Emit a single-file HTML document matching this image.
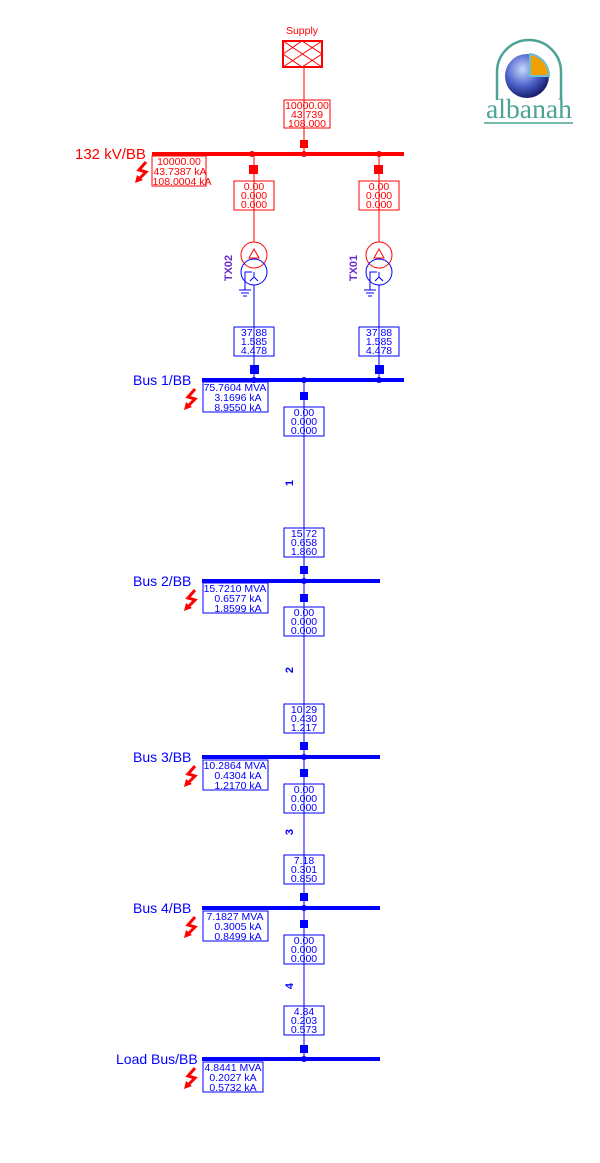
<!DOCTYPE html>
<html><head><meta charset="utf-8"><style>
html,body{margin:0;padding:0;background:#fff;}
svg{display:block;font-family:"Liberation Sans",sans-serif;}
.r{fill:none;stroke:#ff0000;stroke-width:1}
.b{fill:none;stroke:#0000ff;stroke-width:1}
.tr{fill:#ff0000;font-size:10.5px;text-anchor:middle}
.tb{fill:#0000ff;font-size:10.5px;text-anchor:middle}
</style></head><body>
<svg width="600" height="1163" viewBox="0 0 600 1163" xmlns="http://www.w3.org/2000/svg">
<defs>
<g id="boltR"><path d="M11,0 L4,8 L11,10 L4,17" fill="none" stroke="#ff0000" stroke-width="3"/><path d="M0,21 L2,13 L8,18 Z" fill="#ff0000"/></g>
</defs>
<!-- Supply -->
<text x="302" y="34" fill="#ff0000" font-size="10.5" text-anchor="middle">Supply</text>
<rect x="283" y="41" width="39" height="26" fill="none" stroke="#ff0000" stroke-width="2"/>
<path d="M283,41 L322,67 M283,67 L322,41 M283,54 L302,41 L322,54 L302,67 Z" class="r"/>
<line x1="304" y1="67" x2="304" y2="154" class="r"/>
<rect x="284" y="100" width="46" height="28" fill="#fff" class="r"/>
<text class="tr" x="307" y="109">10000.00</text><text class="tr" x="307" y="118">43.739</text><text class="tr" x="307" y="127">108.000</text>
<rect x="300" y="140" width="8" height="8" fill="#ff0000"/>
<!-- 132kV bus -->
<rect x="152" y="152" width="252" height="4" fill="#ff0000"/>
<circle cx="252" cy="154" r="3" fill="#ff0000"/><circle cx="304" cy="154" r="3" fill="#ff0000"/><circle cx="379" cy="154" r="3" fill="#ff0000"/>
<text x="75" y="159" fill="#ff0000" font-size="15">132 kV/BB</text>
<rect x="152" y="156" width="54" height="30" fill="#fff" class="r"/>
<text class="tr" x="179" y="165">10000.00</text><text class="tr" x="180" y="175">43.7387 kA</text><text class="tr" x="182" y="185">108.0004 kA</text>
<use href="#boltR" x="135" y="162"/>
<!-- transformer branches -->
<g id="txR">
<line x1="254" y1="154" x2="254" y2="242" class="r"/>
<rect x="249" y="165" width="9" height="9" fill="#ff0000"/>
<rect x="234" y="181" width="40" height="29" fill="#fff" class="r"/>
<text class="tr" x="254" y="190">0.00</text><text class="tr" x="254" y="199">0.000</text><text class="tr" x="254" y="208">0.000</text>
<circle cx="254" cy="255" r="13" class="r"/>
<path d="M254,249 L249,258 L259,258 Z" class="r"/>
<circle cx="254" cy="272" r="13" class="b"/>
<path d="M254,272 L254,277 L250,281 M254,277 L258,281 M252,272 L245,272 L245,290 M239,290 L251,290 M241,293 L249,293 M243,296 L247,296" class="b" stroke-width="1.5"/>
<line x1="254" y1="285" x2="254" y2="380" class="b"/>
<rect x="234" y="327" width="40" height="29" fill="#fff" class="b"/>
<text class="tb" x="254" y="336">37.88</text><text class="tb" x="254" y="345">1.585</text><text class="tb" x="254" y="354">4.478</text>
<rect x="250" y="365" width="9" height="9" fill="#0000ff"/>
</g>
<text transform="translate(232,268) rotate(-90)" fill="#6a2ad0" font-size="11" font-weight="bold" text-anchor="middle">TX02</text>
<use href="#txR" x="125" y="0"/>
<text transform="translate(357,268) rotate(-90)" fill="#6a2ad0" font-size="11" font-weight="bold" text-anchor="middle">TX01</text>
<!-- Bus 1 -->
<rect x="202" y="378" width="202" height="4" fill="#0000ff"/>
<circle cx="254" cy="380" r="3" fill="#0000ff"/><circle cx="304" cy="380" r="3" fill="#0000ff"/><circle cx="379" cy="380" r="3" fill="#0000ff"/>
<text x="133" y="385" fill="#0000ff" font-size="14">Bus 1/BB</text>
<rect x="203" y="382" width="65" height="30" fill="#fff" class="b"/>
<text class="tb" x="235" y="391">75.7604 MVA</text><text class="tb" x="238" y="401">3.1696 kA</text><text class="tb" x="238" y="411">8.9550 kA</text>
<use href="#boltR" x="184" y="389"/>
<!-- line sections -->
<line x1="304" y1="380" x2="304" y2="1059" class="b"/>
<g font-size="10.5" fill="#0000ff" text-anchor="middle">
<rect x="300" y="392" width="8" height="8" fill="#0000ff"/>
<rect x="284" y="407" width="40" height="29" fill="#fff" class="b"/>
<text x="304" y="416">0.00</text><text x="304" y="425">0.000</text><text x="304" y="434">0.000</text>
<text transform="translate(293,483) rotate(-90)" font-weight="bold" font-size="11">1</text>
<rect x="284" y="528" width="40" height="29" fill="#fff" class="b"/>
<text x="304" y="537">15.72</text><text x="304" y="546">0.658</text><text x="304" y="555">1.860</text>
<rect x="300" y="566" width="8" height="8" fill="#0000ff"/>
<rect x="300" y="594" width="8" height="8" fill="#0000ff"/>
<rect x="284" y="607" width="40" height="29" fill="#fff" class="b"/>
<text x="304" y="616">0.00</text><text x="304" y="625">0.000</text><text x="304" y="634">0.000</text>
<text transform="translate(293,670) rotate(-90)" font-weight="bold" font-size="11">2</text>
<rect x="284" y="704" width="40" height="29" fill="#fff" class="b"/>
<text x="304" y="713">10.29</text><text x="304" y="722">0.430</text><text x="304" y="731">1.217</text>
<rect x="300" y="742" width="8" height="8" fill="#0000ff"/>
<rect x="300" y="769" width="8" height="8" fill="#0000ff"/>
<rect x="284" y="784" width="40" height="29" fill="#fff" class="b"/>
<text x="304" y="793">0.00</text><text x="304" y="802">0.000</text><text x="304" y="811">0.000</text>
<text transform="translate(293,832) rotate(-90)" font-weight="bold" font-size="11">3</text>
<rect x="284" y="855" width="40" height="29" fill="#fff" class="b"/>
<text x="304" y="864">7.18</text><text x="304" y="873">0.301</text><text x="304" y="882">0.850</text>
<rect x="300" y="893" width="8" height="8" fill="#0000ff"/>
<rect x="300" y="920" width="8" height="8" fill="#0000ff"/>
<rect x="284" y="935" width="40" height="29" fill="#fff" class="b"/>
<text x="304" y="944">0.00</text><text x="304" y="953">0.000</text><text x="304" y="962">0.000</text>
<text transform="translate(293,986) rotate(-90)" font-weight="bold" font-size="11">4</text>
<rect x="284" y="1006" width="40" height="29" fill="#fff" class="b"/>
<text x="304" y="1015">4.84</text><text x="304" y="1024">0.203</text><text x="304" y="1033">0.573</text>
<rect x="300" y="1045" width="8" height="8" fill="#0000ff"/>
</g>
<g>
<rect x="202" y="579" width="178" height="4" fill="#0000ff"/><circle cx="304" cy="581" r="3" fill="#0000ff"/>
<text x="133" y="586" fill="#0000ff" font-size="14">Bus 2/BB</text>
<rect x="203" y="583" width="65" height="30" fill="#fff" class="b"/>
<text class="tb" x="235" y="592">15.7210 MVA</text><text class="tb" x="238" y="602">0.6577 kA</text><text class="tb" x="238" y="612">1.8599 kA</text>
<use href="#boltR" x="184" y="590"/>

<rect x="202" y="755" width="178" height="4" fill="#0000ff"/><circle cx="304" cy="757" r="3" fill="#0000ff"/>
<text x="133" y="762" fill="#0000ff" font-size="14">Bus 3/BB</text>
<rect x="203" y="760" width="65" height="30" fill="#fff" class="b"/>
<text class="tb" x="235" y="769">10.2864 MVA</text><text class="tb" x="238" y="779">0.4304 kA</text><text class="tb" x="238" y="789">1.2170 kA</text>
<use href="#boltR" x="184" y="766"/>

<rect x="202" y="906" width="178" height="4" fill="#0000ff"/><circle cx="304" cy="908" r="3" fill="#0000ff"/>
<text x="133" y="913" fill="#0000ff" font-size="14">Bus 4/BB</text>
<rect x="203" y="911" width="65" height="30" fill="#fff" class="b"/>
<text class="tb" x="235" y="920">7.1827 MVA</text><text class="tb" x="238" y="930">0.3005 kA</text><text class="tb" x="238" y="940">0.8499 kA</text>
<use href="#boltR" x="184" y="917"/>

<rect x="202" y="1057" width="178" height="4" fill="#0000ff"/><circle cx="304" cy="1059" r="3" fill="#0000ff"/>
<text x="116" y="1064" fill="#0000ff" font-size="14">Load Bus/BB</text>
<rect x="203" y="1062" width="60" height="30" fill="#fff" class="b"/>
<text class="tb" x="233" y="1071">4.8441 MVA</text><text class="tb" x="233" y="1081">0.2027 kA</text><text class="tb" x="233" y="1091">0.5732 kA</text>
<use href="#boltR" x="184" y="1068"/>
</g>
<!-- logo -->
<g>
<path d="M497,100 L497,72 A32,32 0 0 1 561,72 L561,100" fill="none" stroke="#4aa394" stroke-width="2.5"/>
<defs><radialGradient id="gl" cx="40%" cy="35%" r="65%"><stop offset="0" stop-color="#c8d8ff"/><stop offset="0.6" stop-color="#4a5fc8"/><stop offset="1" stop-color="#1a2070"/></radialGradient></defs>
<circle cx="527" cy="76" r="22" fill="url(#gl)"/>
<path d="M530,54 A22,22 0 0 1 549,76 L530,76 Z" fill="#f0a000" stroke="#6ac0d8" stroke-width="2"/>
<text x="529" y="118" fill="#4aa394" font-size="27" text-anchor="middle" font-family="Liberation Serif,serif" textLength="86" lengthAdjust="spacingAndGlyphs">albanah</text>
<line x1="484" y1="123" x2="573" y2="123" stroke="#4aa394" stroke-width="1.5"/>
</g>
</svg>
</body></html>
